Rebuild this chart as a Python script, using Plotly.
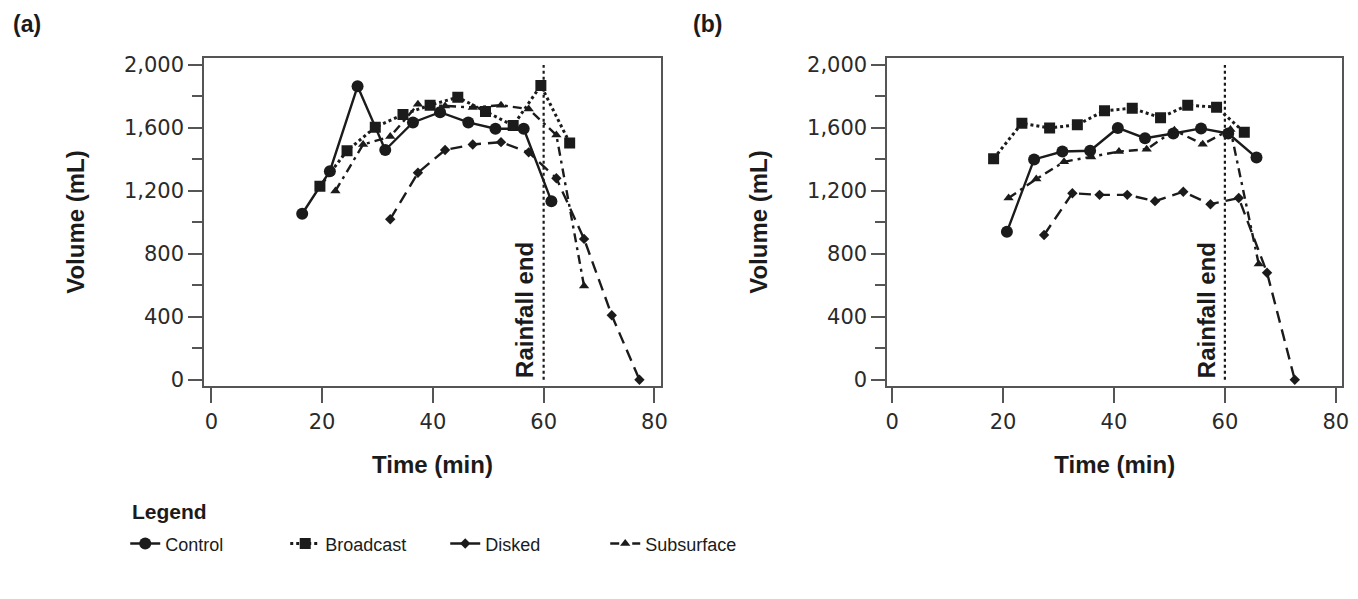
import plotly.graph_objects as go

# ---------------- data ----------------
series_names = ["Control", "Broadcast", "Disked", "Subsurface"]

# Panel (a)
control_a_t = [16.4, 21.4, 26.4, 31.4, 36.4, 41.3, 46.4, 51.3, 56.4, 61.4]
control_a_v = [1055, 1325, 1865, 1460, 1635, 1700, 1635, 1595, 1595, 1135]
broadcast_a_t = [19.6, 24.5, 29.6, 34.6, 39.5, 44.5, 49.5, 54.5, 59.5, 64.7]
broadcast_a_v = [1230, 1455, 1605, 1685, 1745, 1795, 1705, 1615, 1870, 1505]
disked_a_t = [32.3, 37.3, 42.2, 47.2, 52.3, 57.3, 62.3, 67.3, 72.3, 77.3]
disked_a_v = [1020, 1315, 1460, 1495, 1510, 1445, 1280, 895, 410, 0]
subsurface_a_t = [22.4, 27.4, 32.3, 37.3, 42.2, 47.2, 52.3, 57.3, 62.3, 67.3]
subsurface_a_v = [1200, 1495, 1545, 1750, 1740, 1730, 1745, 1720, 1555, 595]

# Panel (b)
control_b_t = [20.7, 25.6, 30.7, 35.7, 40.7, 45.6, 50.7, 55.7, 60.6, 65.7]
control_b_v = [940, 1400, 1450, 1455, 1600, 1535, 1565, 1597, 1565, 1412]
broadcast_b_t = [18.3, 23.4, 28.4, 33.4, 38.3, 43.3, 48.4, 53.3, 58.5, 63.5]
broadcast_b_v = [1405, 1630, 1600, 1620, 1710, 1725, 1665, 1745, 1732, 1572]
disked_b_t = [27.4, 32.5, 37.4, 42.4, 47.4, 52.5, 57.4, 62.5, 67.6, 72.6]
disked_b_v = [920, 1185, 1175, 1175, 1135, 1195, 1115, 1155, 680, 0]
subsurface_b_t = [21.0, 26.0, 31.0, 35.9, 40.9, 45.9, 50.9, 56.0, 61.0, 66.1]
subsurface_b_v = [1155, 1275, 1385, 1415, 1450, 1465, 1585, 1497, 1590, 735]

rainfall_end = 60
x_ticks = [0, 20, 40, 60, 80]
y_ticks = [0, 400, 800, 1200, 1600, 2000]
panel_labels = ["(a)", "(b)"]

# ---------------- styles ----------------
INK = "#1b1b1b"
FRAME = "#555555"
styles = {
    "Control": dict(dash="solid", symbol="circle", msize=12, width=2.4),
    "Broadcast": dict(dash="dot", symbol="square", msize=11, width=3),
    "Disked": dict(dash="12px,7px", symbol="diamond", msize=8, width=2.4),
    "Subsurface": dict(dash="9px,5px,3px,5px", symbol="triangle-up", msize=9, width=2.4),
}

panel_data = [
    {"Control": (control_a_t, control_a_v), "Broadcast": (broadcast_a_t, broadcast_a_v),
     "Disked": (disked_a_t, disked_a_v), "Subsurface": (subsurface_a_t, subsurface_a_v)},
    {"Control": (control_b_t, control_b_v), "Broadcast": (broadcast_b_t, broadcast_b_v),
     "Disked": (disked_b_t, disked_b_v), "Subsurface": (subsurface_b_t, subsurface_b_v)},
]

# page is 1358x599; the html body has an 8px margin, so the figure is drawn 8px in.
PAGE_W, PAGE_H = 1358, 599
OFF = 8
W, H = PAGE_W - OFF, PAGE_H - OFF

def px_x(p):  # page x -> paper fraction
    return (p - OFF) / W

def px_y(p):  # page y (from top) -> paper fraction
    return 1 - (p - OFF) / H

fig = go.Figure()

for p, data in enumerate(panel_data):
    xa = "x" if p == 0 else "x2"
    ya = "y" if p == 0 else "y2"
    for name in series_names:
        t, v = data[name]
        s = styles[name]
        fig.add_trace(go.Scatter(
            x=t, y=v, mode="lines+markers", name=name,
            xaxis=xa, yaxis=ya, showlegend=(p == 0),
            line=dict(color=INK, width=s["width"], dash=s["dash"]),
            marker=dict(color=INK, size=s["msize"], symbol=s["symbol"]),
        ))
    fig.add_shape(type="line", xref=xa, yref=ya, x0=rainfall_end, x1=rainfall_end,
                  y0=0, y1=2000, line=dict(color=INK, width=2.2, dash="dot"))
    fig.add_annotation(xref=xa, yref=ya, x=rainfall_end, y=0, text="<b>Rainfall end</b>",
                       textangle=-90, showarrow=False, xanchor="right", yanchor="bottom",
                       xshift=-3, yshift=0,
                       font=dict(family="Liberation Sans, Arial", size=24, color=INK))

tick_font = dict(family="DejaVu Sans", size=21, color="#2a2a2a")
title_font = dict(family="Liberation Sans, Arial", size=24, color=INK)

def xaxis_cfg(domain, rng, anchor):
    return dict(domain=domain, range=rng, anchor=anchor, tickvals=x_ticks, ticks="outside", ticklen=16,
                tickcolor=FRAME, tickwidth=1.5, showline=True, linecolor=FRAME, linewidth=1.5,
                mirror=True, showgrid=False, zeroline=False, tickfont=tick_font,
                title=dict(text="<b>Time (min)</b>", font=title_font, standoff=24))

def yaxis_cfg(domain, anchor):
    return dict(domain=domain, range=[-37.4, 2041.8], anchor=anchor, tickvals=y_ticks, tickformat=",d",
                ticks="outside", ticklen=14, tickcolor=FRAME, tickwidth=1.5,
                minor=dict(dtick=200, tick0=0, ticks="outside", ticklen=10, tickcolor=FRAME, tickwidth=1.5),
                showline=True, linecolor=FRAME, linewidth=1.5, mirror=True,
                showgrid=False, zeroline=False, tickfont=tick_font,
                title=dict(text="<b>Volume (mL)</b>", font=title_font, standoff=33))

ydom = [px_y(387.7), px_y(54.3)]
fig.update_layout(
    width=W, height=H, margin=dict(l=0, r=0, t=0, b=0),
    paper_bgcolor="white", plot_bgcolor="white",
    xaxis=xaxis_cfg([px_x(203.3), px_x(663.3)], [-1.33, 81.18], "y"),
    yaxis=yaxis_cfg(ydom, "x"),
    xaxis2=xaxis_cfg([px_x(891), px_x(1349.3)], [-0.9, 81.18], "y2"),
    yaxis2=yaxis_cfg(ydom, "x2"),
    legend=dict(orientation="h", x=px_x(124), xanchor="left", y=px_y(530), yanchor="top",
                font=dict(family="Liberation Sans", size=18, color=INK),
                itemwidth=30, entrywidth=115, bgcolor="rgba(0,0,0,0)"),
)

fig.add_annotation(xref="paper", yref="paper", x=px_x(129), y=px_y(516), text="<b>Legend</b>",
                   showarrow=False, xanchor="left", yanchor="middle",
                   font=dict(family="Liberation Sans", size=21, color=INK))

for lbl, px in zip(panel_labels, [9, 694]):
    fig.add_annotation(xref="paper", yref="paper", x=px_x(px), y=px_y(19), text=f"<b>{lbl}</b>",
                       showarrow=False, xanchor="left", yanchor="middle",
                       font=dict(family="Liberation Sans, Arial", size=23, color=INK))

fig.write_html("out.html")
